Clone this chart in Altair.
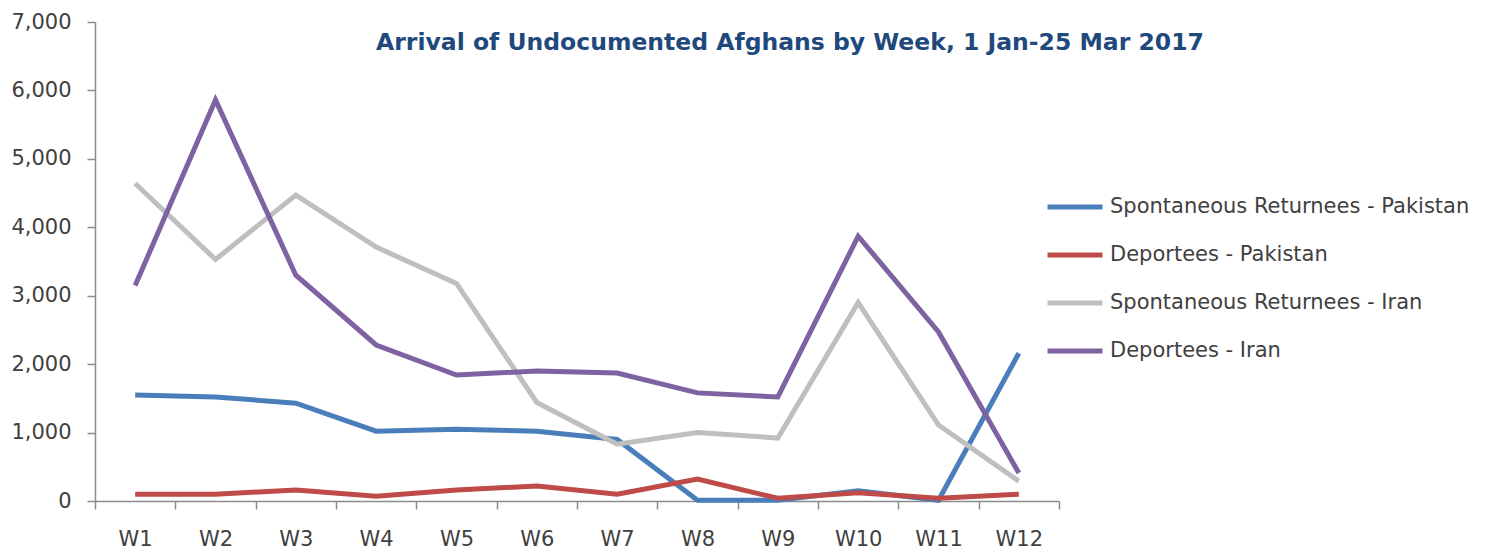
import altair as alt
import pandas as pd

weeks = ["W1", "W2", "W3", "W4", "W5", "W6", "W7", "W8", "W9", "W10", "W11", "W12"]
series_names = [
    "Spontaneous Returnees - Pakistan",
    "Deportees - Pakistan",
    "Spontaneous Returnees - Iran",
    "Deportees - Iran",
]
series_colors = ["#4A7EBB", "#BE4B48", "#BFBFBF", "#7E62A1"]

spont_pakistan = [1550, 1520, 1430, 1020, 1050, 1020, 900, 10, 10, 150, 10, 2160]
deport_pakistan = [100, 100, 160, 70, 160, 220, 100, 320, 40, 120, 40, 100]
spont_iran = [4640, 3530, 4470, 3710, 3180, 1440, 830, 1000, 920, 2900, 1110, 290]
deport_iran = [3150, 5860, 3300, 2280, 1840, 1900, 1870, 1580, 1520, 3870, 2470, 410]

y_ticks = [0, 1000, 2000, 3000, 4000, 5000, 6000, 7000]

rows = []
for i, (name, vals) in enumerate(zip(series_names, [spont_pakistan, deport_pakistan, spont_iran, deport_iran])):
    for w, v in zip(weeks, vals):
        rows.append({"week": w, "series": name, "value": v, "k": i})
df = pd.DataFrame(rows)

FONT = "DejaVu Sans"
TXT = "#404040"
AX = "#8C8C8C"

chart = alt.Chart(df).mark_line(strokeWidth=5).encode(
    x=alt.X(
        "week:N",
        sort=weeks,
        bandPosition=0.5,
        scale=alt.Scale(type="band", paddingInner=0, paddingOuter=0),
        axis=alt.Axis(
            title=None, labelAngle=0, tickBand="extent", tickSize=8,
            domainColor=AX, tickColor=AX, domainWidth=1.5, tickWidth=1.5,
            labelFont=FONT, labelFontSize=21, labelColor=TXT, labelPadding=19,
        ),
    ),
    y=alt.Y(
        "value:Q",
        scale=alt.Scale(domain=[0, 7000], nice=False),
        axis=alt.Axis(
            title=None, values=y_ticks, format=",d", grid=False, tickSize=8,
            domainColor=AX, tickColor=AX, domainWidth=1.5, tickWidth=1.5,
            labelFont=FONT, labelFontSize=21, labelColor=TXT, labelPadding=16,
        ),
    ),
    color=alt.Color(
        "series:N",
        scale=alt.Scale(domain=series_names, range=series_colors),
        legend=alt.Legend(
            title=None, orient="none", legendX=950, legendY=155,
            symbolType="stroke", symbolStrokeWidth=5, symbolSize=3025,
            labelFont=FONT, labelFontSize=21, labelColor=TXT, labelOffset=5,
            rowPadding=8, labelLimit=500,
        ),
    ),
    order=alt.Order("k:Q"),
).properties(
    width=964,
    height=479,
    title=alt.TitleParams(
        "Arrival of Undocumented Afghans by Week, 1 Jan-25 Mar 2017",
        font=FONT, fontSize=23.5, fontWeight="bold", color="#1F497D",
        anchor="middle", dx=213, dy=47,
    ),
    autosize="none",
    padding={"left": 87, "top": 14, "right": 420, "bottom": 47},
).configure_view(stroke=None)

chart.save("out.html", embed_options={"renderer": "svg", "actions": False})
